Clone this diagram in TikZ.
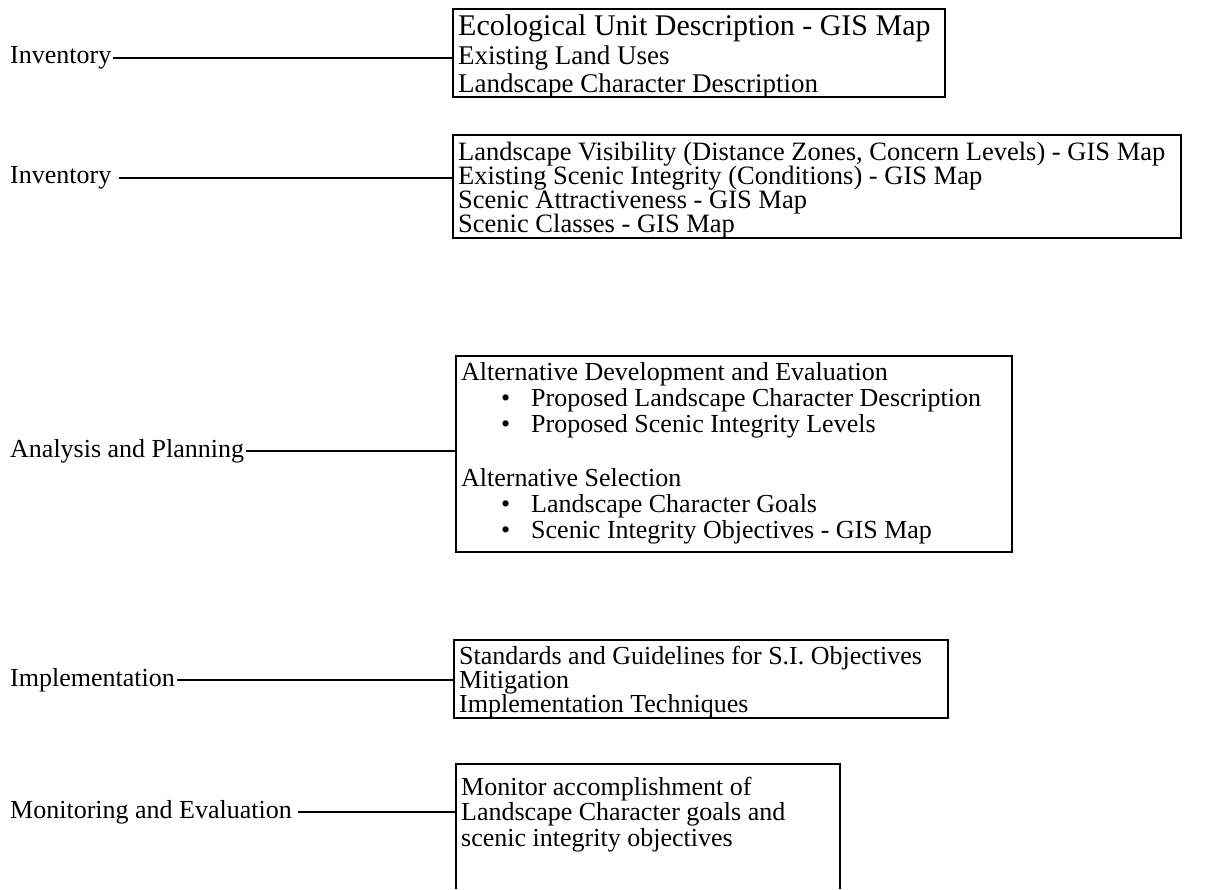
\documentclass[tikz,border=0pt]{standalone}
\usepackage{fontspec}
\setmainfont{Liberation Serif}
\usetikzlibrary{fit}
\begin{document}
\begin{tikzpicture}[x=1pt,y=-1pt,
  txt/.style={anchor=base west, inner sep=0pt, font=\fontsize{26}{26}\selectfont},
  lbl/.style={anchor=west, inner xsep=2pt, inner ysep=0pt, font=\fontsize{26}{26}\selectfont},
  boxline/.style={line width=1.6pt},
  box/.style={boxline, draw, inner sep=0pt},
  conn/.style={line width=1.8pt}]
\useasboundingbox (0,0) rectangle (1210,889);

% ---------- Box 1
\node[box, fit={(453,9) (945,97)}] (b1) {};
\node[txt, font=\fontsize{30}{30}\selectfont] (t11) at (458,35) {Ecological Unit Description - GIS Map};
\node[txt, font=\fontsize{27}{27}\selectfont] (t12) at (458,64) {Existing Land Uses};
\node[txt, font=\fontsize{27}{27}\selectfont] (t13) at (458,92) {Landscape Character Description};
\node[lbl] (l1) at (8,58) {Inventory};
\draw[conn] (l1.east) -- (l1.east -| b1.west);

% ---------- Box 2
\node[box, fit={(453,135) (1181,238)}] (b2) {};
\begin{scope}[txt/.append style={font=\fontsize{26.5}{26.5}\selectfont}]
\node[txt] (t21) at (458,160) {Landscape Visibility (Distance Zones, Concern Levels) - GIS Map};
\node[txt] (t22) at (458,184.3) {Existing Scenic Integrity (Conditions) - GIS Map};
\node[txt] (t23) at (458,208.6) {Scenic Attractiveness - GIS Map};
\node[txt] (t24) at (458,232.9) {Scenic Classes - GIS Map};
\end{scope}
\node[lbl] (l2) at (8,178) {Inventory};
\draw[conn] ([xshift=6pt]l2.east) -- (l2.east -| b2.west);

% ---------- Box 3
\node[box, fit={(456,356) (1012,552)}] (b3) {};
\node[txt] (t31) at (461,380) {Alternative Development and Evaluation};
\node[txt] (u32) at (501,406) {\textbullet};
\node[txt] (t32) at (531,406) {Proposed Landscape Character Description};
\node[txt] (u33) at (501,432) {\textbullet};
\node[txt] (t33) at (531,432) {Proposed Scenic Integrity Levels};
\node[txt] (t34) at (461,486) {Alternative Selection};
\node[txt] (u35) at (501,512) {\textbullet};
\node[txt] (t35) at (531,512) {Landscape Character Goals};
\node[txt] (u36) at (501,538) {\textbullet};
\node[txt] (t36) at (531,538) {Scenic Integrity Objectives - GIS Map};
\node[lbl] (l3) at (8,451) {Analysis and Planning};
\draw[conn] (l3.east) -- (l3.east -| b3.west);

% ---------- Box 4
\node[box, fit={(454,640) (948,718)}] (b4) {};
\node[txt] (t41) at (459,664) {Standards and Guidelines for S.I. Objectives};
\node[txt] (t42) at (459,688) {Mitigation};
\node[txt] (t43) at (459,712) {Implementation Techniques};
\node[lbl] (l4) at (8,680) {Implementation};
\draw[conn] (l4.east) -- (l4.east -| b4.west);

% ---------- Box 5 (open at the bottom edge)
\node[inner sep=0pt, fit={(456,764) (840,889)}] (b5) {};
\draw[boxline] (b5.south west) -- (b5.north west) -- (b5.north east) -- (b5.south east);
\node[txt] (t51) at (461,795) {Monitor accomplishment of};
\node[txt] (t52) at (461,820) {Landscape Character goals and};
\node[txt] (t53) at (461,846) {scenic integrity objectives};
\node[lbl] (l5) at (8,812) {Monitoring and Evaluation};
\draw[conn] ([xshift=4pt]l5.east) -- (l5.east -| b5.west);
\end{tikzpicture}
\end{document}
